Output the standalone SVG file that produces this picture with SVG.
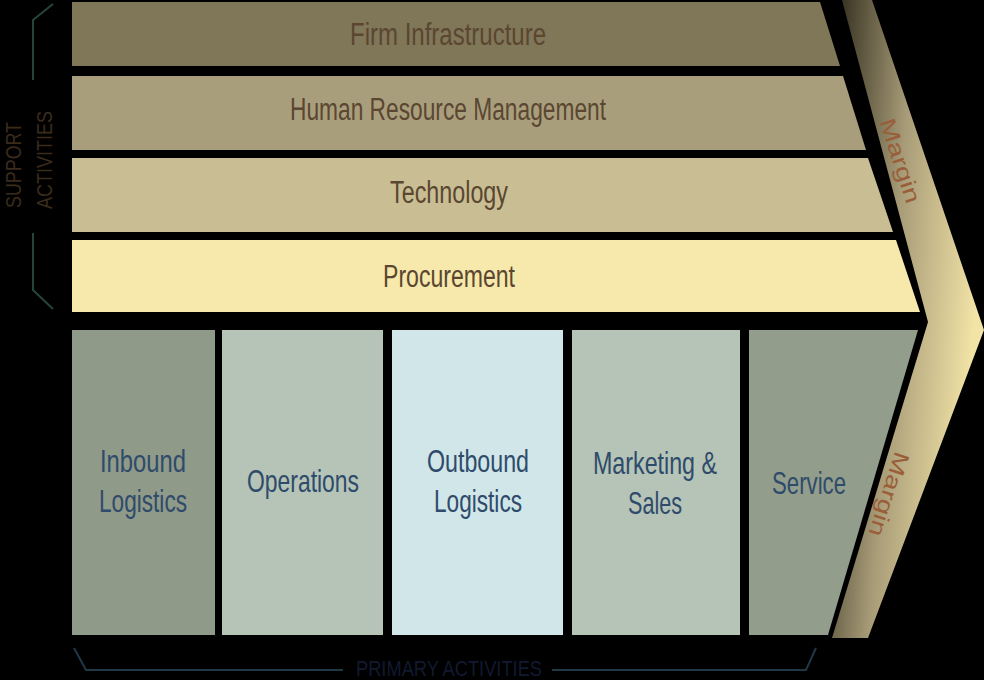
<svg xmlns="http://www.w3.org/2000/svg" width="984" height="680" viewBox="0 0 984 680">
<defs>
<linearGradient id="mg" x1="0" y1="0" x2="1" y2="0.3">
<stop offset="0" stop-color="#2a2618"/>
<stop offset="0.5" stop-color="#a89c78"/>
<stop offset="1" stop-color="#f2e3a6"/>
</linearGradient>
<style>
.s{font-family:"Liberation Sans",Arial,sans-serif;font-size:31px;fill:#5a4631;text-anchor:middle}
.p{font-family:"Liberation Sans",Arial,sans-serif;font-size:32px;fill:#2f4b6b;text-anchor:middle}
.lbl{font-family:"Liberation Sans",Arial,sans-serif;font-size:22px;text-anchor:middle}
.br{fill:none;stroke-width:2}
</style>
</defs>
<rect width="984" height="680" fill="#000"/>
<g id="margin">
<polygon points="842,0 872,0 984,330 868,638 832,638 928,322" fill="url(#mg)"/>
<text class="lbl" transform="translate(893,163) rotate(72)" fill="#9a5e3a" font-size="32" textLength="88" lengthAdjust="spacingAndGlyphs">Margin</text>
<text class="lbl" transform="translate(882,492) rotate(108)" fill="#9a5e3a" font-size="32" textLength="88" lengthAdjust="spacingAndGlyphs">Margin</text>
</g>
<g id="firm"><polygon points="72,2 820,2 840,66 72,66" fill="#807658"/>
<text class="s" x="448" y="45" textLength="196" lengthAdjust="spacingAndGlyphs">Firm Infrastructure</text></g>
<g id="hrm"><polygon points="72,76 843,76 866,150 72,150" fill="#a99e7c"/>
<text class="s" x="448" y="120" textLength="316" lengthAdjust="spacingAndGlyphs">Human Resource Management</text></g>
<g id="tech"><polygon points="72,158 868,158 893,232 72,232" fill="#c9be93"/>
<text class="s" x="449" y="203" textLength="118" lengthAdjust="spacingAndGlyphs">Technology</text></g>
<g id="proc"><polygon points="72,240 896,240 920,312 72,312" fill="#f6e9ab"/>
<text class="s" x="449" y="287" textLength="132" lengthAdjust="spacingAndGlyphs">Procurement</text></g>
<g id="inbound"><rect x="72" y="330" width="143" height="305" fill="#8f9a88"/>
<text class="p" x="143" y="472" textLength="86" lengthAdjust="spacingAndGlyphs">Inbound</text>
<text class="p" x="143" y="512" textLength="88" lengthAdjust="spacingAndGlyphs">Logistics</text></g>
<g id="ops"><rect x="222" y="330" width="161" height="305" fill="#b5c4b6"/>
<text class="p" x="303" y="492" textLength="112" lengthAdjust="spacingAndGlyphs">Operations</text></g>
<g id="outbound"><rect x="392" y="330" width="171" height="305" fill="#d1e6e8"/>
<text class="p" x="478" y="472" textLength="102" lengthAdjust="spacingAndGlyphs">Outbound</text>
<text class="p" x="478" y="512" textLength="88" lengthAdjust="spacingAndGlyphs">Logistics</text></g>
<g id="marketing"><rect x="572" y="330" width="168" height="305" fill="#b5c4b6"/>
<text class="p" x="655" y="474" textLength="124" lengthAdjust="spacingAndGlyphs">Marketing &amp;</text>
<text class="p" x="655" y="514" textLength="54" lengthAdjust="spacingAndGlyphs">Sales</text></g>
<g id="service"><polygon points="749,330 918,330 828,635 749,635" fill="#939d8b"/>
<text class="p" x="809" y="494" textLength="74" lengthAdjust="spacingAndGlyphs">Service</text></g>
<g id="connectors">
<polyline class="br" stroke="#24453a" points="53,4 33,20 33,80"/>
<polyline class="br" stroke="#24453a" points="33,233 33,290 53,309"/>
<polyline class="br" stroke="#1f3845" points="74,648 86,670 343,670"/>
<polyline class="br" stroke="#1f3845" points="552,670 806,670 816,648"/>
</g>
<g id="labels">
<text class="lbl" transform="translate(21,165) rotate(-90)" fill="#3b2b1b" textLength="86" lengthAdjust="spacingAndGlyphs">SUPPORT</text>
<text class="lbl" transform="translate(52,160) rotate(-90)" fill="#3b2b1b" textLength="98" lengthAdjust="spacingAndGlyphs">ACTIVITIES</text>
<text class="lbl" x="449" y="676" fill="#111a30" font-size="19" textLength="186" lengthAdjust="spacingAndGlyphs">PRIMARY ACTIVITIES</text>
</g>
</svg>
